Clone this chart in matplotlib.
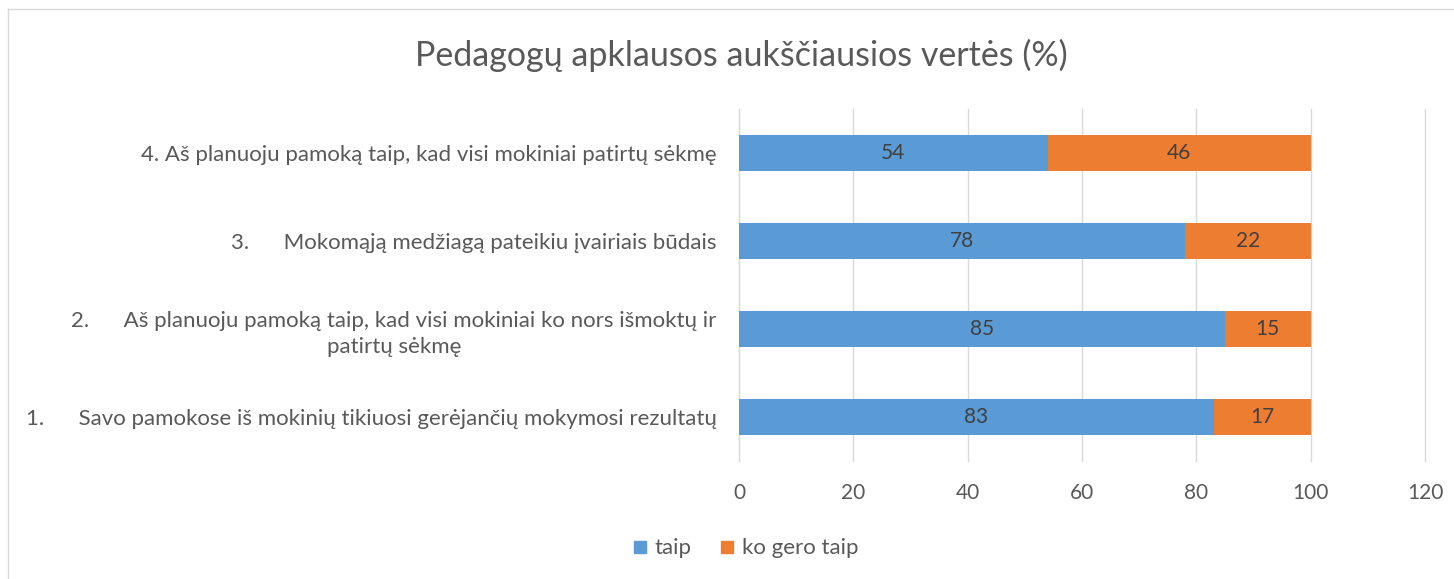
import matplotlib.pyplot as plt
from matplotlib.lines import Line2D

plt.rcParams['font.family'] = ['Lato', 'DejaVu Sans']

categories = [
    "1.      Savo pamokose iš mokinių tikiuosi gerėjančių mokymosi rezultatų",
    "2.      Aš planuoju pamoką taip, kad visi mokiniai ko nors išmoktų ir\npatirtų sėkmę",
    "3.      Mokomąją medžiagą pateikiu įvairiais būdais",
    "4. Aš planuoju pamoką taip, kad visi mokiniai patirtų sėkmę",
]
taip = [83, 85, 78, 54]
ko_gero_taip = [17, 15, 22, 46]
series_names = ["taip", "ko gero taip"]
xticks = [0, 20, 40, 60, 80, 100, 120]

blue = "#5B9BD5"
orange = "#ED7D31"
gray = "#595959"

fig = plt.figure(figsize=(14.54, 5.79), dpi=100)
ax = fig.add_axes([0.5083, 0.2038, 0.4718, 0.608])

y = list(range(len(categories)))
b1 = ax.barh(y, taip, height=0.41, color=blue, zorder=3)
b2 = ax.barh(y, ko_gero_taip, left=taip, height=0.41, color=orange, zorder=3)

for bars in (b1, b2):
    ax.bar_label(bars, label_type="center", fontsize=15, color="#404040")

ax.set_xlim(0, 120)
ax.set_ylim(-0.5, 3.5)
ax.set_xticks(xticks)
ax.set_xticklabels([str(t) for t in xticks])
ax.set_yticks(y)
ax.set_yticklabels(categories, multialignment="center", linespacing=1.4)
ax.tick_params(axis="x", length=0, labelsize=15, labelcolor=gray, pad=16)
ax.tick_params(axis="y", length=0, labelsize=16, labelcolor=gray, pad=16)
ax.grid(axis="x", color="#D9D9D9", linewidth=1, zorder=0)
for line in ax.get_xgridlines():
    line.set_clip_on(False)
for s in ax.spines.values():
    s.set_visible(False)

fig.text(0.51, 0.905, "Pedagogų apklausos aukščiausios vertės (%)",
         ha="center", va="center", fontsize=24.5, color=gray)

handles = [Line2D([], [], marker="s", linestyle="none", markersize=9,
                  markerfacecolor=c, markeredgecolor=c) for c in (blue, orange)]
fig.legend(handles, series_names, loc="center", bbox_to_anchor=(0.513, 0.053),
           ncol=2, frameon=False, fontsize=16, labelcolor=gray,
           handlelength=0.6, handletextpad=0.35, columnspacing=1.3)

# chart area border (top and left edges visible)
fig.add_artist(Line2D([8 / 1454, 1], [1 - 9 / 579, 1 - 9 / 579],
                      transform=fig.transFigure, color="#D9D9D9", linewidth=1))
fig.add_artist(Line2D([8 / 1454, 8 / 1454], [0, 1 - 9 / 579],
                      transform=fig.transFigure, color="#D9D9D9", linewidth=1))

fig.savefig("out.png", dpi=100)
